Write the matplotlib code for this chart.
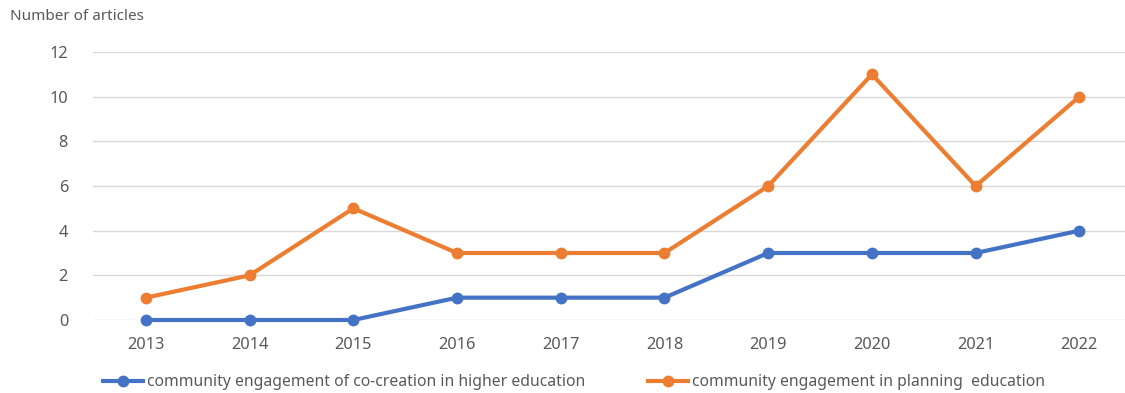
import matplotlib.pyplot as plt
from matplotlib.lines import Line2D

years = ['2013', '2014', '2015', '2016', '2017', '2018', '2019', '2020', '2021', '2022']
co_creation = [0, 0, 0, 1, 1, 1, 3, 3, 3, 4]
planning = [1, 2, 5, 3, 3, 3, 6, 11, 6, 10]

label_blue = 'community engagement of co-creation in higher education'
label_orange = 'community engagement in planning  education'

blue = '#4472C4'
orange = '#ED7D31'
text_col = '#595959'

plt.rcParams['font.family'] = ['Noto Sans', 'DejaVu Sans']

W, H = 1125, 393
fig = plt.figure(figsize=(W / 100, H / 100), dpi=100)
# axes spans pixel x 93..1125, y 52..320
ax = fig.add_axes([93 / W, 1 - 320 / H, (W - 93) / W, (320 - 52) / H])

x = range(len(years))
ax.plot(x, co_creation, color=blue, lw=3, marker='o', ms=7.5, zorder=3)
ax.plot(x, planning, color=orange, lw=3, marker='o', ms=7.5, zorder=3)

ax.set_xlim(-0.51, 9.44)
ax.set_ylim(0, 12)
ax.set_yticks(range(0, 13, 2))
ax.set_xticks(list(x))
ax.set_xticklabels(years)
ax.grid(axis='y', color='#D9D9D9', lw=1)
ax.set_axisbelow(True)
for s in ax.spines.values():
    s.set_visible(False)
ax.tick_params(length=0, labelsize=11.8, colors=text_col, pad=12)
ax.tick_params(axis='y', pad=18)
for ln in ax.lines:
    ln.set_clip_on(False)

fig.text(10 / W, 1 - 17 / H, 'Number of articles', fontsize=11, color=text_col,
         va='center', ha='left')

handles = [Line2D([], [], color=blue, lw=3, marker='o', ms=7.5),
           Line2D([], [], color=orange, lw=3, marker='o', ms=7.5)]
leg = fig.legend(handles, [label_blue, label_orange], ncol=2, frameon=False,
                 loc='center left', bbox_to_anchor=(103 / W, 1 - 382 / H),
                 fontsize=11.3, handlelength=2.55, handletextpad=0.25,
                 columnspacing=4.0, borderaxespad=0, borderpad=0)
for t in leg.get_texts():
    t.set_color(text_col)

fig.savefig('out.png', dpi=100)
